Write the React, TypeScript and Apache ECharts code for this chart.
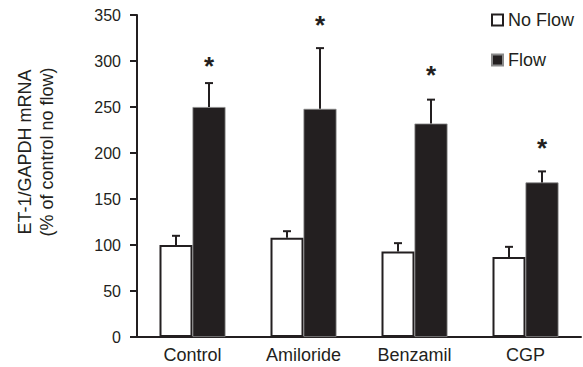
import React, { useEffect, useRef } from "react";
import * as echarts from "echarts";

const categories = ["Control", "Amiloride", "Benzamil", "CGP"];
const noFlowMean = [100, 108, 93, 87];
const noFlowErrTop = [110, 115, 102, 98];
const flowMean = [250, 248, 232, 168];
const flowErrTop = [276, 314, 258, 180];
const asteriskLevel = [299, 344, 289, 210];
const yTicks = { min: 0, max: 350, interval: 50 };

const FONT = '"Liberation Sans", Arial, sans-serif';
const INK = "#231f20";
const BAR_W = 33;

export default function App() {
  const ref = useRef<HTMLDivElement>(null);
  useEffect(() => {
    if (!ref.current) return;
    const chart = echarts.init(ref.current, null, { renderer: "svg" });

    const errData: any[] = [];
    categories.forEach((_, i) => {
      errData.push([i, noFlowMean[i], noFlowErrTop[i], -1]);
      errData.push([i, flowMean[i], flowErrTop[i], 1]);
    });
    const starData = categories.map((_, i) => [i, asteriskLevel[i]]);

    const option: any = {
      animation: false,
      backgroundColor: "#fff",
      textStyle: { fontFamily: FONT },
      grid: { left: 137, right: 2, top: 15, bottom: 30, containLabel: false },
      legend: {
        data: ["No Flow", "Flow"],
        orient: "vertical",
        left: 491,
        top: 11,
        padding: 0,
        itemWidth: 11,
        itemHeight: 11,
        itemGap: 22,
        icon: "rect",
        textStyle: { fontSize: 18, color: INK, fontFamily: FONT },
      },
      xAxis: {
        type: "category",
        data: categories,
        axisLine: { lineStyle: { color: INK, width: 2 } },
        axisTick: { show: false },
        axisLabel: { fontSize: 18, color: INK, margin: 9, fontFamily: FONT },
      },
      yAxis: {
        type: "value",
        min: yTicks.min,
        max: yTicks.max,
        interval: yTicks.interval,
        splitLine: { show: false },
        axisLine: { show: true, lineStyle: { color: INK, width: 2 } },
        axisTick: { show: true, length: 7, lineStyle: { color: INK, width: 2 } },
        axisLabel: { fontSize: 16, color: INK, margin: 16, fontFamily: FONT },
      },
      series: [
        {
          name: "No Flow",
          type: "bar",
          data: noFlowMean,
          barWidth: BAR_W,
          barGap: 0,
          itemStyle: { color: "#fff", borderColor: INK, borderWidth: 2 },
        },
        {
          name: "Flow",
          type: "bar",
          data: flowMean,
          barWidth: BAR_W,
          barGap: 0,
          itemStyle: { color: INK, borderColor: "#8a8a8a", borderWidth: 0.8 },
        },
        {
          type: "custom",
          data: errData,
          z: 5,
          renderItem: (params: any, api: any) => {
            const i = api.value(0);
            const side = api.value(3);
            const base = api.coord([i, api.value(1)]);
            const top = api.coord([i, api.value(2)]);
            const x = base[0] + side * (BAR_W / 2);
            return {
              type: "group",
              children: [
                {
                  type: "line",
                  shape: { x1: x, y1: base[1], x2: x, y2: top[1] },
                  style: { stroke: INK, lineWidth: 2 },
                },
                {
                  type: "line",
                  shape: { x1: x - 4, y1: top[1], x2: x + 4, y2: top[1] },
                  style: { stroke: INK, lineWidth: 2 },
                },
              ],
            };
          },
        },
        {
          type: "custom",
          data: starData,
          z: 5,
          renderItem: (params: any, api: any) => {
            const i = api.value(0);
            const p = api.coord([i, api.value(1)]);
            return {
              type: "text",
              x: p[0] + BAR_W / 2,
              y: p[1] + 4,
              style: {
                text: "*",
                fontSize: 26,
                fontWeight: "bold",
                fontFamily: FONT,
                fill: INK,
                align: "center",
                verticalAlign: "middle",
              },
            };
          },
        },
      ],
      graphic: [
        {
          type: "text",
          x: 25,
          y: 152,
          rotation: Math.PI / 2,
          style: {
            text: "ET-1/GAPDH mRNA",
            fontSize: 18,
            fontFamily: FONT,
            fill: INK,
            align: "center",
            verticalAlign: "middle",
          },
        },
        {
          type: "text",
          x: 47,
          y: 152,
          rotation: Math.PI / 2,
          style: {
            text: "(% of control no flow)",
            fontSize: 18,
            fontFamily: FONT,
            fill: INK,
            align: "center",
            verticalAlign: "middle",
          },
        },
      ],
    };
    chart.setOption(option);
    return () => chart.dispose();
  }, []);
  return <div ref={ref} style={{ width: 583, height: 367, position: "absolute", left: 0, top: 0 }} />;
}
